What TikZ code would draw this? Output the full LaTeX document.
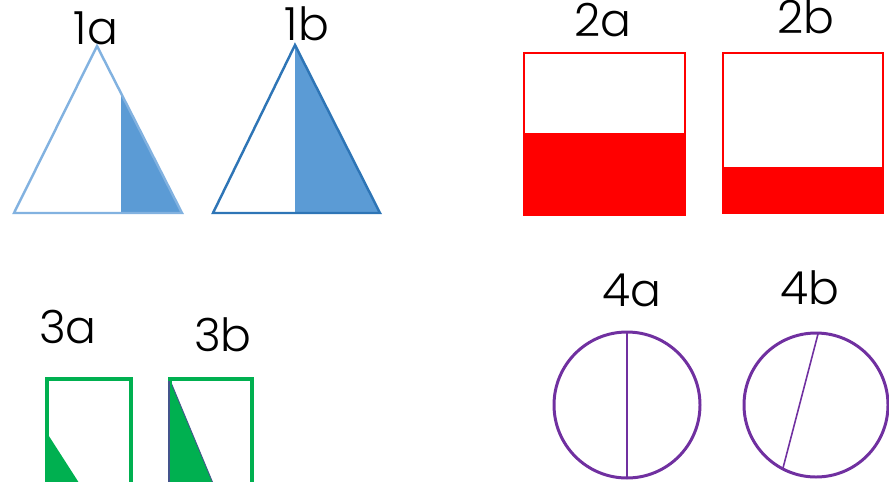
\documentclass[tikz,border=0pt]{standalone}
\usepackage{fontspec}
\setmainfont{Poppins}[UprightFont=* Light]
\usetikzlibrary{calc}
\definecolor{triblue}{RGB}{91, 155, 213}
\definecolor{trilight}{RGB}{130, 178, 224}
\definecolor{tridark}{RGB}{46, 117, 182}
\definecolor{boxred}{RGB}{255, 0, 0}
\definecolor{boxgreen}{RGB}{0, 176, 80}
\definecolor{edgeslate}{RGB}{68, 84, 140}
\definecolor{ringpurple}{RGB}{112, 48, 160}

\begin{document}
\begin{tikzpicture}[x=0.02cm, y=-0.02cm, every node/.style={font=\fontsize{26}{30}\selectfont, inner sep=0pt}]
        \useasboundingbox (0,0) rectangle (889,481);
        \clip (0,0) rectangle (889,481);

        % labels
        \foreach \lbl/\x/\y in {1a/96/28, 1b/307/24, 2a/603/20, 2b/806/17,
                                3a/68/327, 3b/223/335, 4a/632/290, 4b/810/288}{
          \node (lbl\lbl) at (\x,\y) {\lbl};
        }

        % triangles (blue)
        \fill[triblue] (121,93) -- (182,213) -- (121,213) -- cycle;
        \draw[trilight, line width=1.4pt, line join=miter] (97,46) -- (182,213) -- (14,213) -- cycle;
        \fill[triblue] (295,45) -- (380,213) -- (295,213) -- cycle;
        \draw[tridark, line width=1.4pt, line join=miter] (295,45) -- (380,213) -- (213,213) -- cycle;

        % squares (red)
        \fill[boxred] (524,133) rectangle (685,215);
        \draw[boxred, line width=1.1pt] (524,53) rectangle (685,215);
        \fill[boxred] (723,167) rectangle (883,213);
        \draw[boxred, line width=1.1pt] (723,53) rectangle (883,213);

        % rectangles (green), cut off at the bottom
        \fill[boxgreen] (47,433) -- (90,500) -- (47,500) -- cycle;
        \draw[boxgreen, line width=2pt] (47,379) rectangle (131,520);
        \fill[boxgreen] (170,380) -- (220,500) -- (170,500) -- cycle;
        \draw[edgeslate, line width=0.5pt] (170,380) -- (220,500);
        \draw[boxgreen, line width=2pt] (170,520) -- (170,379) -- (252,379) -- (252,520);
        \draw[edgeslate, line width=0.8pt] (169,381) -- (169,520);

        % circles (purple)
        \draw[ringpurple, line width=1.7pt] (627,405) circle[radius=73];
        \draw[ringpurple, line width=0.9pt] (627,332) -- (627,478);
        \draw[ringpurple, line width=1.7pt] (816,405) circle[radius=72];
        \draw[ringpurple, line width=0.9pt] (818,334) -- (783,468);
      \end{tikzpicture}
\end{document}
